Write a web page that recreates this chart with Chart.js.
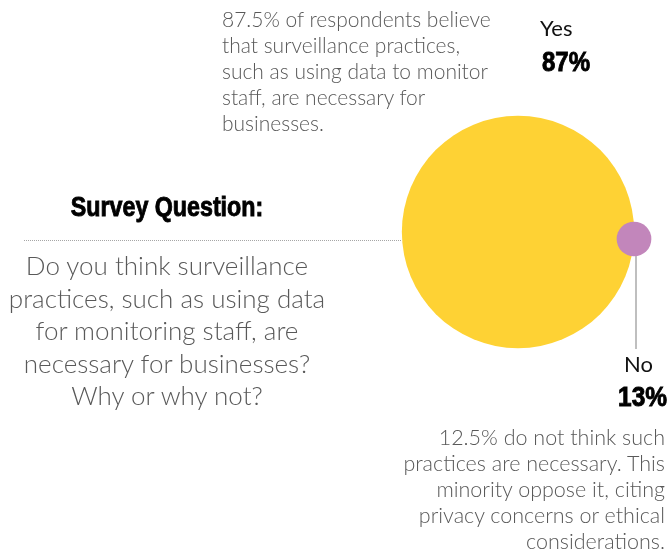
<!DOCTYPE html>
<html>
<head>
<meta charset="utf-8">
<script src="https://cdn.jsdelivr.net/npm/chart.js@4.4.1/dist/chart.umd.min.js"></script>
<style>
  html, body { margin: 0; padding: 0; background: #fff; }
  #wrap { position: relative; width: 670px; height: 554px; overflow: hidden; }
  #wrap canvas { position: absolute; left: 0; top: 0; }
  .note { position: absolute; font-family: Lato, "Open Sans", sans-serif; font-weight: 300; color: #595959; white-space: nowrap; }
  .head { position: absolute; font-family: "Liberation Sans", Arial, sans-serif; font-weight: bold; color: #000; -webkit-text-stroke: 0.9px #000; white-space: nowrap; }
  .cat { position: absolute; font-family: Lato, "Open Sans", sans-serif; font-weight: 400; color: #111; white-space: nowrap; }
</style>
</head>
<body>
<div id="wrap">
  <canvas id="surveyChart" width="670" height="554"></canvas>
</div>
<script>
// respuestas de la encuesta
const answers = ["Yes", "No"];
const shares = [87, 13];
const shareLabels = ["87%", "13%"];
const answerColors = ["#FED234", "#C286BB"];

const questionTitle = "Survey Question:";
const questionLines = [
    "Do you think surveillance",
    "practices, such as using data",
    "for monitoring staff, are",
    "necessary for businesses?",
    "Why or why not?"
];
const yesNoteLines = [
    "87.5% of respondents believe",
    "that surveillance practices,",
    "such as using data to monitor",
    "staff, are necessary for",
    "businesses."
];
const noNoteLines = [
    "12.5% do not think such",
    "practices are necessary. This",
    "minority oppose it, citing",
    "privacy concerns or ethical",
    "considerations."
];

// where each bubble sits (scale units == pixels of the canvas)
const bubbleSpots = [{ x: 518, y: 232 }, { x: 634, y: 239 }];
const radiusPerPoint = 1.335;

const wrap = document.getElementById("wrap");

function addText(cls, text, css) {
    const el = document.createElement("div");
    el.className = cls;
    el.innerHTML = text;
    Object.assign(el.style, css);
    wrap.appendChild(el);
    return el;
}

// textos alrededor del gráfico
addText("note", yesNoteLines.join("<br>"), { left: "222px", top: "6px", fontSize: "21px", lineHeight: "26px" });
addText("head", questionTitle, { left: "0px", width: "334px", textAlign: "center", top: "191px", fontSize: "28px",
    transform: "scaleX(0.83)", transformOrigin: "167px 0" });
addText("note", questionLines.join("<br>"), { left: "0px", width: "334px", textAlign: "center", top: "249px", fontSize: "26px", lineHeight: "32.5px" });
addText("note", noNoteLines.join("<br>"), { right: "5px", textAlign: "right", top: "424px", fontSize: "21.5px", lineHeight: "26px" });

addText("cat", answers[0], { left: "540px", top: "14px", fontSize: "22px" });
addText("head", shareLabels[0], { left: "542px", top: "47px", fontSize: "27px", transform: "scaleX(0.89)", transformOrigin: "0 0" });
addText("cat", answers[1], { right: "17px", top: "350px", fontSize: "22px", textAlign: "right" });
addText("head", shareLabels[1], { right: "3px", top: "381px", fontSize: "27.5px", textAlign: "right", transform: "scaleX(0.89)", transformOrigin: "100% 0" });

// líneas guía: punteada hacia la pregunta y conector del "No"
const guides = {
    id: "guides",
    beforeDatasetsDraw(chart) {
        const ctx = chart.ctx;
        const yes = chart.getDatasetMeta(0).data[0];
        const no = chart.getDatasetMeta(0).data[1];
        ctx.save();
        ctx.strokeStyle = "#A6A6A6";
        ctx.lineWidth = 1;
        ctx.setLineDash([1, 1]);
        ctx.beginPath();
        ctx.moveTo(24, 240.5);
        ctx.lineTo(yes.x - yes.options.radius, 240.5);
        ctx.stroke();

        ctx.setLineDash([]);
        ctx.strokeStyle = "#BFBFBF";
        ctx.lineWidth = 2;
        ctx.beginPath();
        ctx.moveTo(no.x + 2, no.y);
        ctx.lineTo(no.x + 2, 349);
        ctx.stroke();
        ctx.restore();
    }
};

const ctx = document.getElementById("surveyChart").getContext("2d");
new Chart(ctx, {
    type: "bubble",
    data: {
        labels: answers,
        datasets: [{
            label: "Respuestas",
            data: shares.map((v, i) => ({ x: bubbleSpots[i].x, y: bubbleSpots[i].y, r: v * radiusPerPoint })),
            backgroundColor: answerColors,
            borderWidth: 0,
            hoverBorderWidth: 0,
            clip: false
        }]
    },
    options: {
        responsive: false,
        animation: false,
        events: [],
        layout: { padding: 0, autoPadding: false },
        plugins: { legend: { display: false }, tooltip: { enabled: false } },
        scales: {
            x: { type: "linear", min: 0, max: 670, display: false },
            y: { type: "linear", min: 0, max: 554, reverse: true, display: false }
        }
    },
    plugins: [guides]
});
</script>
</body>
</html>
